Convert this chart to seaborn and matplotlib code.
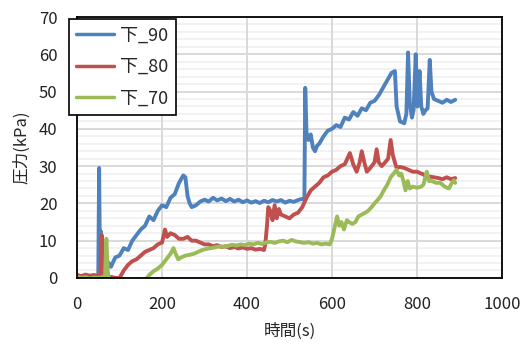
import numpy as np
import pandas as pd
import seaborn as sns
import matplotlib.pyplot as plt
from matplotlib.ticker import MultipleLocator

# 下_90
t90 = [0, 10, 20, 30, 40, 48, 50, 52, 54, 56, 58, 60, 65, 70, 75, 80, 90, 100, 110, 120,
       130, 140, 150, 160, 170, 180, 190, 200, 210, 220, 230, 240, 250, 255, 260, 265, 270,
       280, 290, 300, 310, 320, 330, 340, 350, 360, 370, 380, 390, 400, 410, 420, 430, 440,
       450, 460, 470, 480, 490, 500, 510, 520, 530, 535, 537, 540, 545, 550, 555, 560, 565,
       570, 580, 590, 600, 610, 620, 630, 640, 650, 660, 670, 680, 690, 700, 710, 720, 730,
       740, 748, 752, 760, 770, 775, 779, 783, 788, 792, 797, 801, 806, 810, 815, 820, 825,
       830, 834, 840, 850, 860, 870, 880, 890]
v90 = [0.5, 0.3, 0.6, 0.2, 0.5, 0.3, 0.4, 29.5, 3, 12.5, 5, 1, 0, 2, 4, 3, 5.5, 6, 8, 7.5,
       10, 11.5, 13, 14, 16.5, 15.5, 18, 19.5, 19, 21.5, 22.5, 25.5, 27.5, 27, 22, 20, 19,
       19.5, 20.5, 21, 20.5, 21.5, 20.8, 21.3, 20.6, 21.2, 20.5, 21, 20.3, 20.8, 20.2, 20.6, 20.1, 20.7,
       20.3, 20.9, 20.5, 20.9, 20.2, 20.7, 20.4, 20.9, 21.2, 21, 51, 39, 37, 38.5, 35, 34, 35.5,
       36, 38, 39.5, 40, 41, 40.5, 43, 42.5, 44.5, 43.5, 45.5, 45, 47, 47.5, 49, 51, 53,
       55, 55.5, 46, 42, 41.5, 44, 60.5, 47, 43, 45, 60, 46, 55.5, 46, 44, 45, 45.5,
       58.5, 50, 48, 47.5, 47, 47.8, 47.2, 47.8]

# 下_80
t80 = [0, 10, 20, 30, 40, 50, 55, 58, 61, 65, 70, 80, 90, 100, 105, 110, 120, 130, 140, 150,
       160, 170, 180, 190, 200, 207, 212, 220, 230, 240, 250, 260, 270, 280, 290, 300, 310,
       320, 330, 340, 350, 360, 370, 380, 390, 400, 410, 420, 430, 440, 443, 447, 450, 455,
       460, 465, 470, 475, 480, 490, 500, 510, 520, 530, 540, 550, 560, 570, 580, 590, 600,
       610, 620, 630, 642, 650, 658, 665, 670, 676, 682, 690, 700, 705, 710, 717, 725, 732,
       738, 743, 748, 752, 760, 770, 780, 790, 800, 810, 815, 822, 830, 840, 850, 860, 870,
       880, 890]
v80 = [0.8, 0.5, 0.9, 0.6, 0.8, 0.5, 1, 11.5, 4, 0.5, 0, 0.3, 0, 0, 1, 2, 3.5, 4.5, 5, 6,
       7, 7.5, 8, 9, 9.5, 13, 11, 12, 11.5, 10.5, 10.5, 11, 10, 10, 9.5, 9, 9,
       8.5, 8.8, 8.3, 8.5, 8, 8.3, 7.9, 8.2, 7.8, 8, 7.6, 7.8, 7.5, 9, 14, 19, 18,
       15.5, 19.5, 16, 18.5, 17, 16.5, 16, 17, 17.5, 19, 21.5, 23.5, 24.5, 25.5, 27, 27.5, 28.5,
       29, 30, 30.5, 33.5, 30.5, 28.5, 31, 34, 31, 28.5, 29.5, 31, 34.5, 31, 30, 31, 32,
       37, 33, 31, 29.5, 29.8, 29.5, 29, 28.5, 28.5, 28, 27.8, 27, 27.2, 27, 26.8, 26.5, 27,
       26.5, 26.8]

# 下_70
t70 = [0, 10, 20, 30, 40, 50, 60, 66, 69, 72, 75, 80, 90, 100, 110, 120, 130, 140, 150, 160,
       165, 170, 180, 190, 200, 210, 220, 227, 232, 238, 245, 255, 265, 275, 285, 295, 305,
       315, 325, 335, 345, 355, 365, 375, 385, 395, 405, 415, 425, 435, 445, 455, 465, 475,
       485, 495, 505, 515, 525, 535, 545, 555, 565, 575, 585, 595, 600, 605, 612, 617, 622,
       628, 635, 640, 648, 655, 662, 670, 678, 685, 693, 700, 708, 715, 722, 730, 738, 745,
       752, 758, 763, 768, 773, 778, 783, 790, 800, 810, 815, 823, 828, 835, 845, 855, 865,
       875, 882, 887, 890]
v70 = [0.3, 0, 0.2, -0.2, 0.1, 0, 0.2, 0.5, 10.5, 2, 0, -0.3, -0.5, -0.3, -0.5, -0.4, -0.5, -0.3, -0.5, -0.3,
       0, 0.8, 1.8, 2.5, 3.5, 5, 6.5, 8, 6.5, 5, 5.5, 6, 6.2, 6.5, 7, 7.5, 7.8,
       8, 8.2, 8.5, 8.3, 8.6, 8.9, 8.7, 9, 8.8, 9.2, 9, 9.4, 9.1, 9.5, 9.7, 9.4, 9.8,
       10, 9.6, 10.2, 9.8, 9.6, 9.4, 9.6, 9.2, 9.4, 9, 9.2, 9, 10.5, 13, 16.5, 14, 15,
       13, 15.5, 15, 14.5, 15, 16.5, 17, 17.5, 18, 19, 20, 21, 22, 23.5, 25, 27, 28,
       29, 27.5, 28, 26, 23.5, 26, 24, 24.5, 24.2, 24.5, 25, 28.5, 26, 26, 25.5, 25.5, 24.5,
       24, 25.5, 26.2, 25.5]

labels = ["下_90", "下_80", "下_70"]
colors = ["#4F81BD", "#C0504D", "#9BBB59"]

df = pd.concat([
    pd.DataFrame({"t": t90, "p": v90, "s": labels[0]}),
    pd.DataFrame({"t": t80, "p": v80, "s": labels[1]}),
    pd.DataFrame({"t": t70, "p": v70, "s": labels[2]}),
])

sns.set_theme(style="white")
plt.rcParams['font.family'] = ['Noto Sans CJK JP', 'DejaVu Sans']

fig = plt.figure(figsize=(5.24, 3.47), dpi=100)
ax = fig.add_axes([0.147, 0.199, 0.811, 0.752])

sns.lineplot(data=df, x="t", y="p", hue="s", palette=colors, estimator=None,
             sort=False, linewidth=2.8, ax=ax)

ax.set_xlim(0, 1000)
ax.set_ylim(0, 70)
ax.xaxis.set_major_locator(MultipleLocator(200))
ax.yaxis.set_major_locator(MultipleLocator(10))
ax.yaxis.set_minor_locator(MultipleLocator(2))
ax.grid(which="major", color="#D9D9D9", linewidth=1.4)
ax.grid(which="minor", axis="y", color="#F0F0F0", linewidth=1.2)
ax.set_axisbelow(True)
# vertical grid above the light minor lines
ax.xaxis.set_zorder(0.7)
for sp in ax.spines.values():
    sp.set_color("black")
    sp.set_linewidth(1.3)
ax.tick_params(axis="x", which="both", length=0, pad=13, labelsize=12, colors="#222222")
ax.tick_params(axis="y", which="both", length=0, pad=14, labelsize=12, colors="#222222")

ax.set_xlabel("時間(s)", fontsize=12, labelpad=7)
ax.set_ylabel("圧力(kPa)", fontsize=12, labelpad=6)

leg = ax.legend(loc="upper left", bbox_to_anchor=(-0.019, 0.992), borderaxespad=0,
                fontsize=13, frameon=True, fancybox=False, framealpha=1,
                edgecolor="black", handlelength=2.1, handletextpad=0.35,
                labelspacing=0.75, borderpad=0.4)
leg.get_frame().set_linewidth(1.2)
for h in leg.get_lines():
    h.set_linewidth(2.5)

fig.savefig("out.png", dpi=100)
